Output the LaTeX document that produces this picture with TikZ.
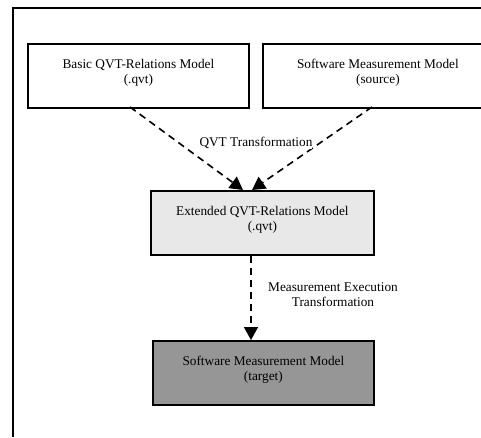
\documentclass[tikz,border=0pt]{standalone}
\usepackage{fontspec}
\setmainfont{Liberation Serif}
\usetikzlibrary{arrows.meta}
\definecolor{lightfill}{HTML}{E8E8E8}
\definecolor{darkfill}{HTML}{969696}
\tikzset{
  x=1pt, y=-1pt,
  modelbox/.style={draw=black, line width=1.8pt, minimum width=#1, minimum height=64pt, inner sep=0pt, align=center, font=\fontsize{13.3}{15}\selectfont, anchor=north west},
  modelbox/.default=221pt,
  flow/.style={line width=1.6pt, dash pattern=on 7pt off 5pt, -{Triangle[length=13pt,width=14pt]}},
  lbl/.style={font=\fontsize{13.3}{15}\selectfont, align=center, inner sep=0pt, fill=white}
}
\begin{document}
\begin{tikzpicture}
\useasboundingbox (0,0) rectangle (481,437);
\draw[line width=1.8pt] (13,437) -- (13,8) -- (481,8);
\node[modelbox] (basic) at (27,43) {Basic QVT-Relations Model\\(.qvt)\\[-5pt]};
\node[modelbox=230pt] (source) at (262,43) {Software Measurement Model\\(source)\\[-5pt]};
\node[modelbox=223pt, fill=lightfill] (ext) at (150,190) {Extended QVT-Relations Model\\(.qvt)\\[-5pt]};
\node[modelbox=221pt, fill=darkfill] (target) at (152,340) {Software Measurement Model\\(target)\\[-5pt]};
\coordinate (s1) at (130,107);
\coordinate (s2) at (372,107);
\coordinate (e1) at (243,190);
\coordinate (e2) at (252,190);
\draw[flow] (s1) -- (e1);
\draw[flow] (s2) -- (e2);
\node[lbl] (qvtl) at (256,143) {QVT Transformation};
\draw[flow] (ext.south -| 251,0) -- (target.north -| 251,0);
\node[font=\fontsize{13.3}{15}\selectfont, align=center, inner sep=0pt] (mel) at (333,295) {Measurement Execution\\Transformation};
\end{tikzpicture}
\end{document}
